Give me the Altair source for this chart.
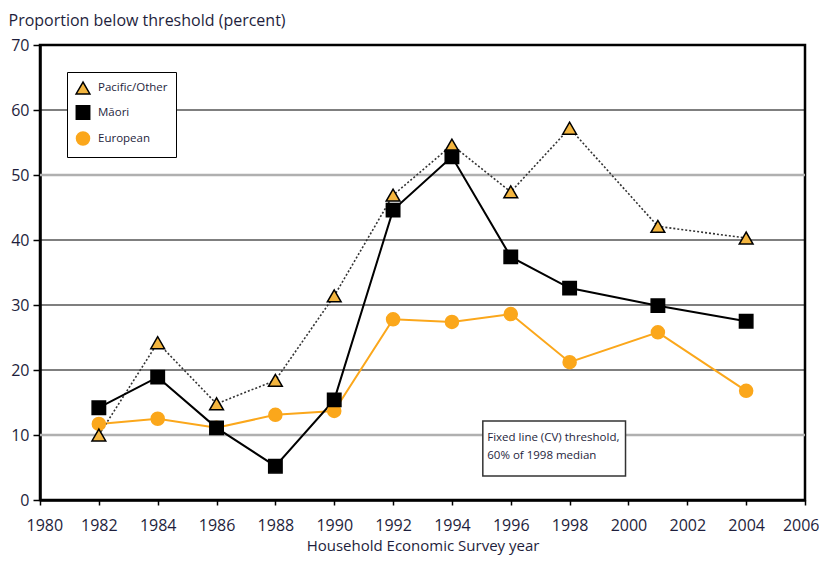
import altair as alt
import pandas as pd

years = [1982, 1984, 1986, 1988, 1990, 1992, 1994, 1996, 1998, 2001, 2004]
pacific = [10.0, 24.2, 14.8, 18.4, 31.4, 46.9, 54.6, 47.4, 57.2, 42.1, 40.3]
maori = [14.2, 18.9, 11.1, 5.2, 15.4, 44.6, 52.8, 37.4, 32.6, 29.9, 27.5]
european = [11.7, 12.5, 11.1, 13.1, 13.7, 27.8, 27.4, 28.6, 21.2, 25.8, 16.8]
series_names = ["Pacific/Other", "Māori", "European"]
grid_black = [20, 30, 40, 60]
grid_gray = [10, 50]
x_ticks = list(range(1980, 2007))
y_ticks = list(range(0, 71, 10))
note_text = ["Fixed line (CV) threshold,", "60% of 1998 median"]
note_box_x = [1995.05, 1999.9]
note_box_y = [12.15, 3.7]
note_anchor = [1995.2, 10.4]

GOLD = "#f3b53f"
ORANGE = "#fba71b"
TXT = "#1e1e3c"
FONT = "Open Sans"

rows = []
for name, vals in zip(series_names, [pacific, maori, european]):
    for yr, v in zip(years, vals):
        rows.append({"year": yr, "value": v, "series": name})
df = pd.DataFrame(rows)
order_map = {"European": 0, "Pacific/Other": 1, "Māori": 2}
df["ord"] = df["series"].map(order_map)
df = df.sort_values(["ord", "year"]).reset_index(drop=True)

xscale = alt.Scale(domain=[1980, 2006], nice=False, zero=False)
yscale = alt.Scale(domain=[0, 70], nice=False)

xaxis = alt.Axis(
    values=x_ticks, format="d",
    labelExpr="datum.value % 2 == 0 ? datum.label : ''",
    tickSize=5, tickColor="black", tickWidth=1.5,
    domainColor="black", domainWidth=2.5,
    labelFontSize=16, labelColor=TXT, labelFont=FONT, labelPadding=12,
    labelFlush=True, labelFlushOffset=14, labelOverlap=False,
    title="Household Economic Survey year", titleFontSize=15,
    titleFont=FONT, titleFontWeight="normal", titleColor=TXT, titlePadding=5,
    grid=False,
)
yaxis = alt.Axis(
    values=y_ticks, tickSize=7, tickColor="black", tickWidth=1.5,
    domainColor="black", domainWidth=2.5,
    labelFontSize=16, labelColor=TXT, labelFont=FONT, labelPadding=4,
    title="Proportion below threshold (percent)", titleAngle=0,
    titleAlign="left", titleBaseline="middle", titleX=-32, titleY=-25,
    titleFontSize=16, titleFont=FONT, titleFontWeight="normal", titleColor=TXT,
    grid=False,
)

X = alt.X("year:Q", scale=xscale, axis=xaxis)
Y = alt.Y("value:Q", scale=yscale, axis=yaxis)

grid_b = alt.Chart(pd.DataFrame({"g": grid_black})).mark_rule(
    color="black", strokeWidth=1.2
).encode(y=alt.Y("g:Q", scale=yscale))
grid_g = alt.Chart(pd.DataFrame({"g": grid_gray})).mark_rule(
    color="#b0b0b0", strokeWidth=2.5
).encode(y=alt.Y("g:Q", scale=yscale))

base = alt.Chart(df)
line_eu = base.transform_filter(alt.datum.series == "European").mark_line(color=ORANGE, strokeWidth=2).encode(x=X, y=Y)
line_pa = base.transform_filter(alt.datum.series == "Pacific/Other").mark_line(color="#333333", strokeWidth=1.6, strokeDash=[2, 2]).encode(x=X, y=Y)
line_ma = base.transform_filter(alt.datum.series == "Māori").mark_line(color="black", strokeWidth=2).encode(x=X, y=Y)

leg = alt.Legend(
    title=None, orient="top-left", offset=27,
    fillColor="white", strokeColor="black", padding=8, rowPadding=5,
    labelFontSize=11.5, labelFont=FONT, labelColor=TXT, symbolStrokeWidth=1.5,
    labelOffset=7,
)
points = base.mark_point(filled=True, opacity=1, strokeWidth=1.5).encode(
    x=X, y=Y,
    shape=alt.Shape("series:N", scale=alt.Scale(domain=series_names, range=["triangle-up", "square", "circle"]), legend=leg),
    fill=alt.Fill("series:N", scale=alt.Scale(domain=series_names, range=[GOLD, "black", ORANGE]), legend=leg),
    stroke=alt.Stroke("series:N", scale=alt.Scale(domain=series_names, range=["black", "black", ORANGE]), legend=leg),
    size=alt.Size("series:N", scale=alt.Scale(domain=series_names, range=[190, 170, 100]), legend=leg),
)

box = alt.Chart(pd.DataFrame({"x": [note_box_x[0]], "x2": [note_box_x[1]], "y": [note_box_y[0]], "y2": [note_box_y[1]]})).mark_rect(
    fill="white", stroke="#333333", strokeWidth=1.5
).encode(x=alt.X("x:Q", scale=xscale), x2="x2:Q", y=alt.Y("y:Q", scale=yscale), y2="y2:Q")

note = alt.Chart(pd.DataFrame({"x": [note_anchor[0]], "y": [note_anchor[1]], "t": ["\n".join(note_text)]})).mark_text(
    align="left", baseline="top", fontSize=11.5, font=FONT, color=TXT, lineBreak="\n", lineHeight=18
).encode(x=alt.X("x:Q", scale=xscale), y=alt.Y("y:Q", scale=yscale), text="t:N")

chart = alt.layer(grid_g, grid_b, line_eu, line_pa, line_ma, points, box, note).properties(
    width=765, height=455,
    autosize=alt.AutoSizeParams(type="none"),
    padding={"left": 32, "top": 37, "right": 14, "bottom": 56},
    background="white",
).configure_view(stroke="black", strokeWidth=2.5)

chart.save("out.html", embed_options={"renderer": "svg", "actions": False})
